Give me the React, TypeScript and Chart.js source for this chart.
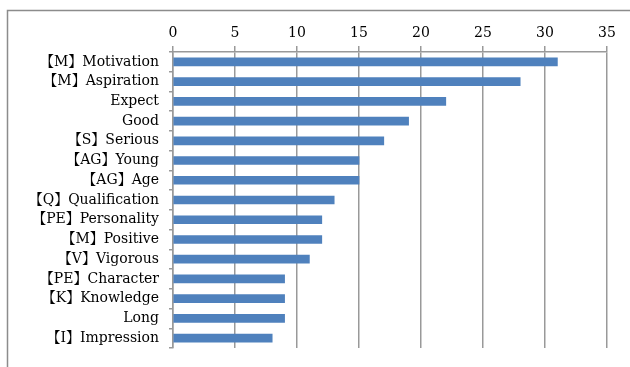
import React, { useEffect, useRef } from "react";
import { Chart, registerables } from "chart.js";

Chart.register(...registerables);

const categories = [
  "【M】Motivation",
  "【M】Aspiration",
  "Expect",
  "Good",
  "【S】Serious",
  "【AG】Young",
  "【AG】Age",
  "【Q】Qualification",
  "【PE】Personality",
  "【M】Positive",
  "【V】Vigorous",
  "【PE】Character",
  "【K】Knowledge",
  "Long",
  "【I】Impression",
];
const counts = [31, 28, 22, 19, 17, 15, 15, 13, 12, 12, 11, 9, 9, 9, 8];
const xTicks = [0, 5, 10, 15, 20, 25, 30, 35];

const FONT = "'DejaVu Serif', 'Noto Serif CJK JP', 'Noto Sans CJK JP', serif";

const framePlugin = {
  id: "frame",
  beforeDraw(chart: any) {
    const ctx = chart.ctx;
    ctx.save();
    ctx.strokeStyle = "#8c8c8c";
    ctx.lineWidth = 1.5;
    ctx.beginPath();
    ctx.moveTo(7.5, chart.height);
    ctx.lineTo(7.5, 10.5);
    ctx.lineTo(chart.width, 10.5);
    ctx.stroke();
    ctx.restore();
  },
};

export default function App() {
  const ref = useRef<HTMLCanvasElement | null>(null);
  useEffect(() => {
    if (!ref.current) return;
    const chart = new Chart(ref.current, {
      type: "bar",
      data: {
        labels: categories,
        datasets: [
          {
            data: counts,
            backgroundColor: "#4F81BD",
            borderWidth: 0,
            barThickness: 8,
          },
        ],
      },
      plugins: [framePlugin],
      options: {
        indexAxis: "y",
        animation: false,
        responsive: false,
        maintainAspectRatio: false,
        layout: { padding: { left: 0, top: 0, right: 23, bottom: 19 } },
        plugins: { legend: { display: false }, tooltip: { enabled: false } },
        scales: {
          x: {
            position: "top",
            min: 0,
            max: 35,
            afterBuildTicks: (scale: any) => {
              scale.ticks = xTicks.map((v) => ({ value: v }));
            },
            afterFit: (scale: any) => {
              scale.height = 52;
            },
            ticks: {
              color: "#000",
              font: { family: FONT, size: 14 },
              padding: 4,
            },
            grid: {
              color: "#999999",
              lineWidth: 1.5,
              tickLength: 6,
            },
            border: { color: "#999999", width: 1.5 },
          },
          y: {
            afterFit: (scale: any) => {
              scale.width = 173;
            },
            ticks: {
              color: "#000",
              font: { family: FONT, size: 14 },
              padding: 10,
              autoSkip: false,
            },
            grid: {
              drawOnChartArea: false,
              color: "#999999",
              lineWidth: 1.5,
              tickLength: 4,
            },
            border: { color: "#999999", width: 1.5 },
          },
        },
      },
    } as any);
    return () => chart.destroy();
  }, []);
  return (
    <div style={{ position: "fixed", left: 0, top: 0, width: 630, height: 367, background: "#fff" }}>
      <canvas ref={ref} width={630} height={367} style={{ width: 630, height: 367 }} />
    </div>
  );
}
